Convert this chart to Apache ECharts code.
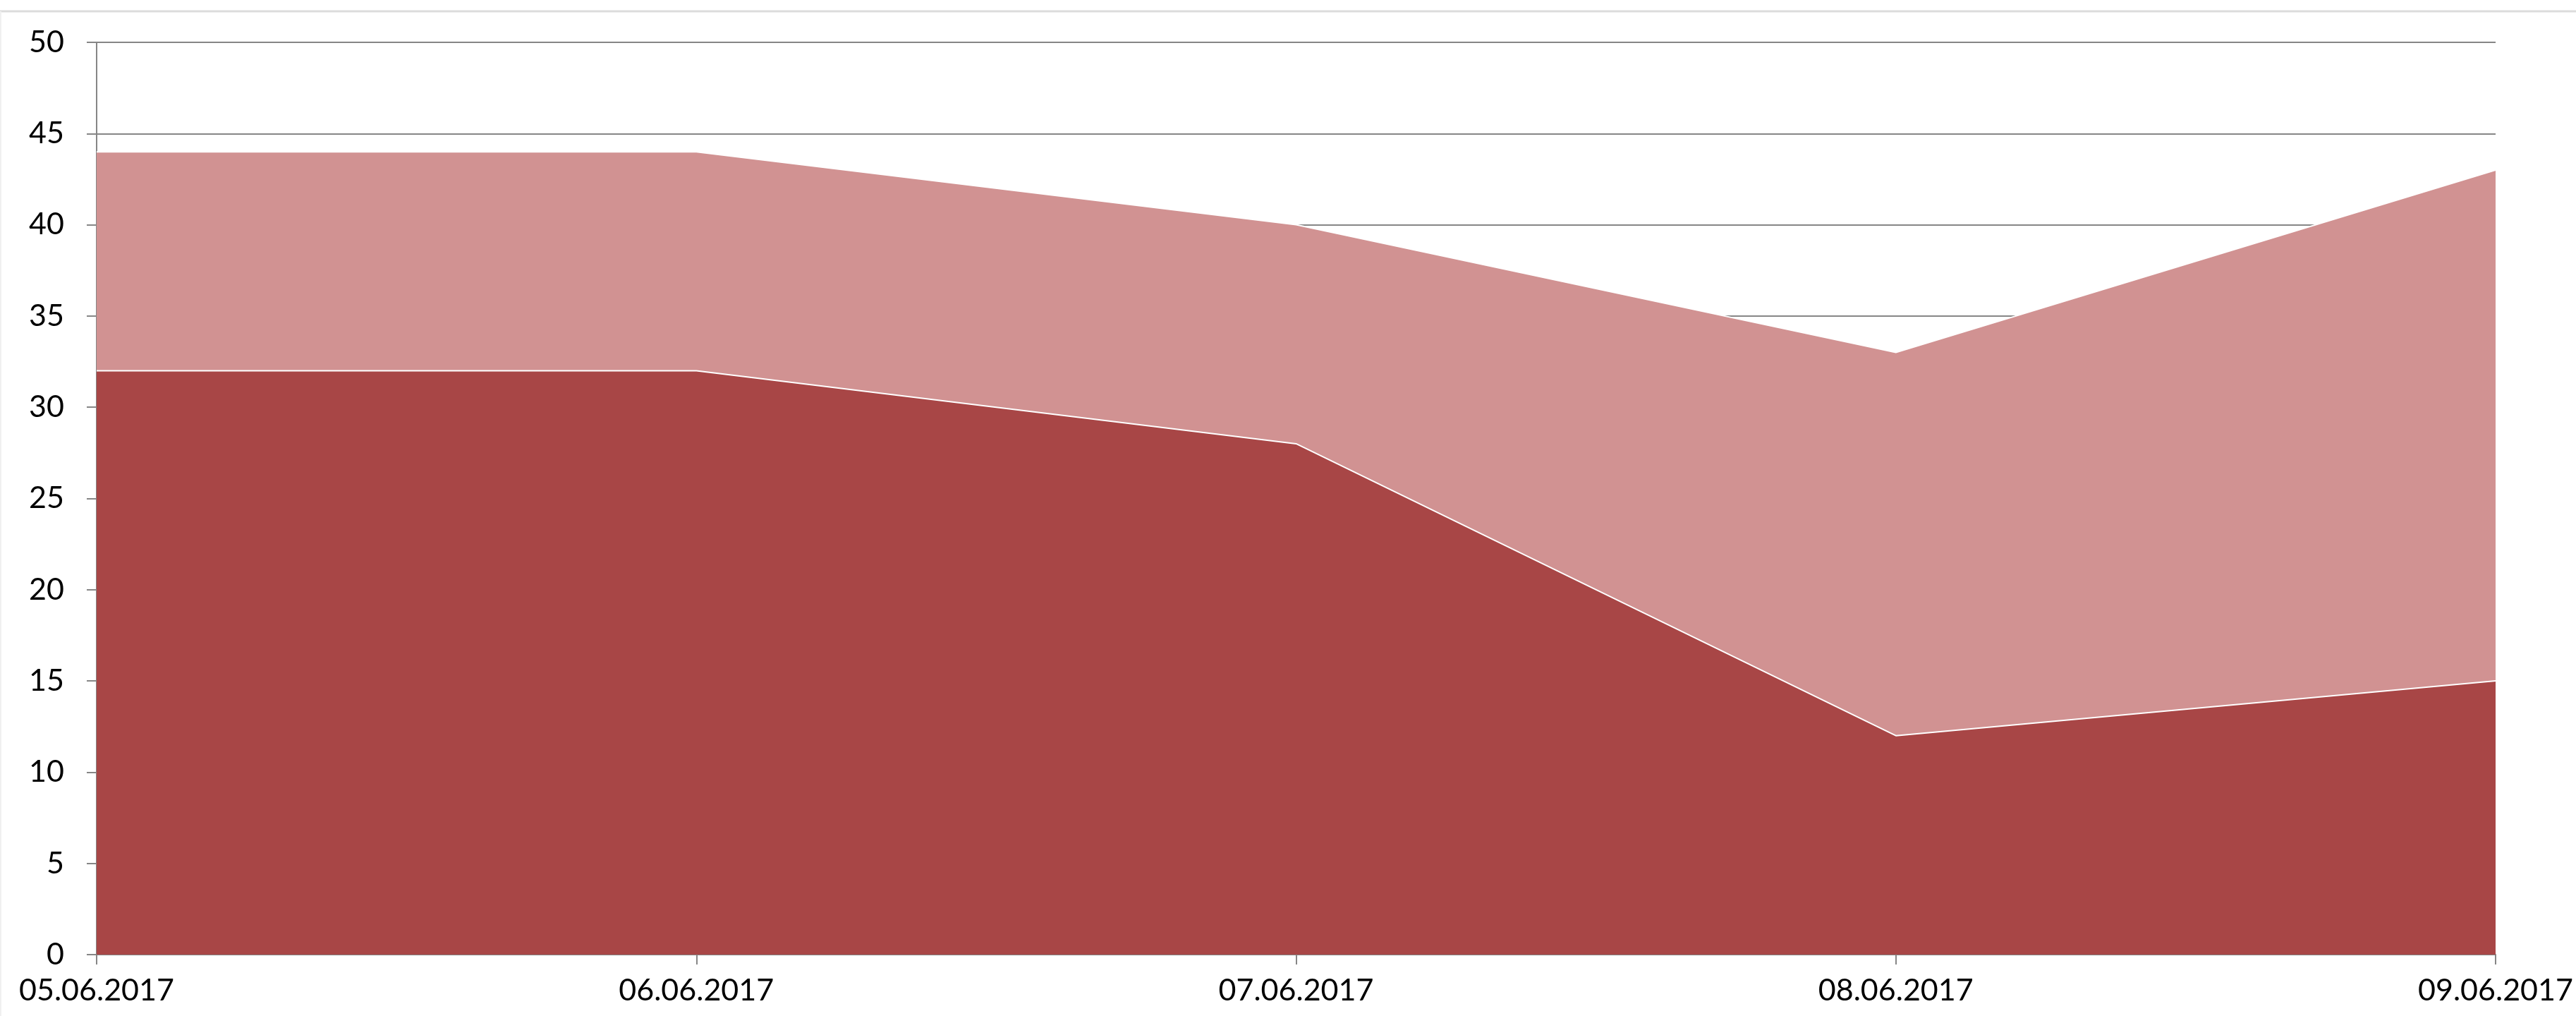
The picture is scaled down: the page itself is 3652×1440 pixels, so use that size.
<!DOCTYPE html>
<html>
<head>
<meta charset="utf-8">
<script src="https://cdn.jsdelivr.net/npm/echarts@6/dist/echarts.min.js"></script>
<style>
  html, body { margin: 0; padding: 0; background: #fff; }
  #chart-box { width: 3652px; height: 1440px; }
</style>
</head>
<body>
<div id="chart-box"></div>
<script>
const dates = ['05.06.2017', '06.06.2017', '07.06.2017', '08.06.2017', '09.06.2017']
const lowerValues = [32, 32, 28, 12, 15]
const upperValues = [12, 12, 12, 21, 28] // stacked on top of lower
const yMin = 0
const yMax = 50
const yStep = 5

const chart = echarts.init(document.getElementById('chart-box'))
const axisGray = '#868686'
const labelFont = { color: '#000', fontSize: 43, fontFamily: 'Lato' }

const option = {
  backgroundColor: '#fff',
  animation: false,
  graphic: [
    {
      type: 'line',
      shape: { x1: 0, y1: 16, x2: 3652, y2: 16 },
      style: { stroke: '#dcdcdc', lineWidth: 3 }
    },
    {
      type: 'line',
      shape: { x1: 1, y1: 16, x2: 1, y2: 1440 },
      style: { stroke: '#f0f0f0', lineWidth: 2 }
    }
  ],
  grid: {
    left: 137,
    right: 114,
    top: 60,
    bottom: 87
  },
  xAxis: {
    type: 'category',
    data: dates,
    boundaryGap: false,
    axisLine: { lineStyle: { color: axisGray, width: 2 } },
    axisTick: { show: true, length: 14, lineStyle: { color: axisGray, width: 2 } },
    axisLabel: Object.assign({ margin: 30, interval: 0 }, labelFont),
    splitLine: { show: false }
  },
  yAxis: {
    type: 'value',
    min: yMin,
    max: yMax,
    interval: yStep,
    axisLine: { show: true, lineStyle: { color: axisGray, width: 2 } },
    axisTick: { show: true, length: 14, lineStyle: { color: axisGray, width: 2 } },
    axisLabel: Object.assign({ margin: 46 }, labelFont),
    splitLine: { show: true, lineStyle: { color: axisGray, width: 2 } }
  },
  series: [
    {
      name: 'lower',
      type: 'line',
      stack: 'total',
      data: lowerValues,
      symbol: 'none',
      lineStyle: { color: '#fff', width: 2 },
      areaStyle: { color: '#A84646', opacity: 1 },
      z: 3
    },
    {
      name: 'upper',
      type: 'line',
      stack: 'total',
      data: upperValues,
      symbol: 'none',
      lineStyle: { color: '#fff', width: 2 },
      areaStyle: { color: '#D19292', opacity: 1 },
      z: 2
    }
  ]
}
chart.setOption(option)
</script>
</body>
</html>
